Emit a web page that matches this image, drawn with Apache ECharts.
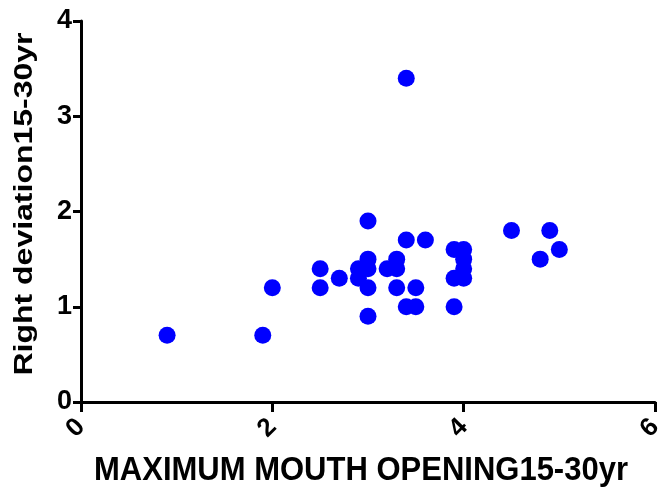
<!DOCTYPE html>
<html>
<head>
<meta charset="utf-8">
<script src="https://cdn.jsdelivr.net/npm/echarts@6/dist/echarts.min.js"></script>
<style>
  html, body { margin: 0; padding: 0; background: #ffffff; }
  #chart { width: 660px; height: 494px; }
</style>
</head>
<body>
<div id="chart"></div>
<script>
// Maximum mouth opening vs right deviation, ages 15-30
const mouthOpening = [
  0.9, 1.9, 2.0, 2.5, 2.5, 2.7, 2.9, 2.9, 3.0, 3.0, 3.0, 3.0, 3.0,
  3.2, 3.3, 3.3, 3.3, 3.4, 3.4, 3.4, 3.5, 3.5, 3.6,
  3.9, 3.9, 3.9, 4.0, 4.0, 4.0, 4.0, 4.5, 4.8, 4.9, 5.0
];
const rightDeviation = [
  0.7, 0.7, 1.2, 1.4, 1.2, 1.3, 1.4, 1.3, 1.9, 1.5, 1.4, 1.2, 0.9,
  1.4, 1.5, 1.4, 1.2, 3.4, 1.7, 1.0, 1.0, 1.2, 1.7,
  1.6, 1.3, 1.0, 1.6, 1.5, 1.4, 1.3, 1.8, 1.5, 1.8, 1.6
];
const xTicks = [0, 2, 4, 6];
const yTicks = [0, 1, 2, 3, 4];

const xTitle = 'MAXIMUM MOUTH OPENING15-30yr';
const yTitle = 'Right deviation15-30yr';

const points = mouthOpening.map((x, i) => [x, rightDeviation[i]]);

const font = '"Liberation Sans", Arial, sans-serif';
const axisLine = { show: true, onZero: false, lineStyle: { color: '#000', width: 3 } };

const chart = echarts.init(document.getElementById('chart'));
chart.setOption({
  animation: false,
  backgroundColor: '#ffffff',
  grid: { left: 81, right: 5, top: 21, bottom: 92, containLabel: false, outerBoundsMode: 'none' },
  // axis titles: tall, narrow bold lettering
  graphic: [
    {
      type: 'text',
      x: 361, y: 471,
      scaleX: 1, scaleY: 1.1,
      style: {
        text: xTitle, font: 'bold 31px "Liberation Sans", Arial, sans-serif', fill: '#000',
        align: 'center', verticalAlign: 'middle', textAlign: 'center', textVerticalAlign: 'middle'
      }
    },
    {
      type: 'text',
      x: 25, y: 204,
      rotation: Math.PI / 2,
      scaleX: 1.23, scaleY: 1,
      style: {
        text: yTitle, font: 'bold 26px "Liberation Sans", Arial, sans-serif', fill: '#000',
        align: 'center', verticalAlign: 'middle', textAlign: 'center', textVerticalAlign: 'middle'
      }
    }
  ],
  xAxis: {
    type: 'value',
    min: xTicks[0],
    max: xTicks[xTicks.length - 1],
    interval: 2,
    axisLine: axisLine,
    axisTick: { show: true, length: 10, lineStyle: { color: '#000', width: 3 } },
    axisLabel: { rotate: 45, margin: 21, fontFamily: font, fontWeight: 'bold', fontSize: 26, color: '#000' },
    splitLine: { show: false }
  },
  yAxis: {
    type: 'value',
    min: yTicks[0],
    max: yTicks[yTicks.length - 1],
    interval: 1,
    axisLine: axisLine,
    axisTick: { show: true, length: 8, lineStyle: { color: '#000', width: 3 } },
    axisLabel: { margin: 9, fontFamily: font, fontWeight: 'bold', fontSize: 27, color: '#000' },
    splitLine: { show: false }
  },
  series: [{
    type: 'scatter',
    data: points,
    symbol: 'circle',
    symbolSize: 17,
    itemStyle: { color: '#0000ff', opacity: 1 }
  }]
});
</script>
</body>
</html>
